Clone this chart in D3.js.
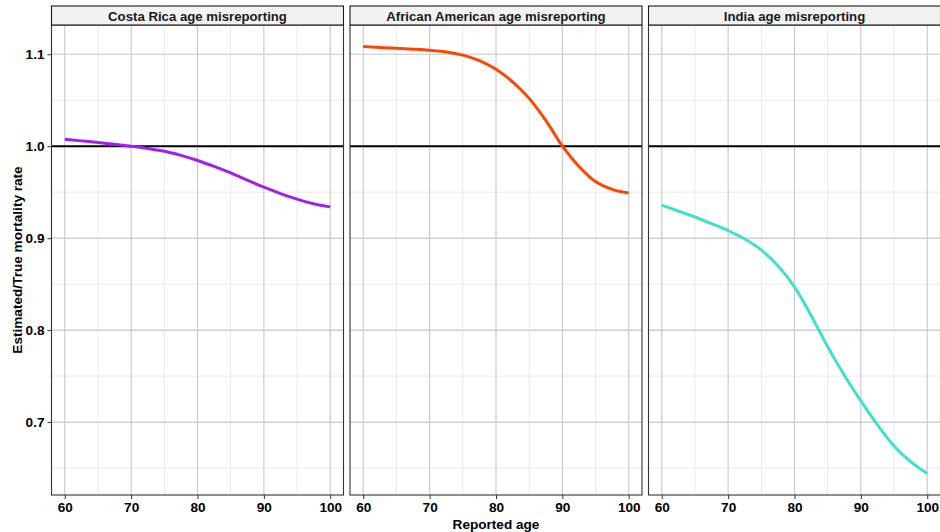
<!DOCTYPE html>
<html>
<head>
<meta charset="utf-8">
<script src="https://cdn.jsdelivr.net/npm/d3@7"></script>
<style>
  body { margin: 0; background: #fff; }
  text { font-family: "Liberation Sans", Arial, sans-serif; font-weight: bold; }
</style>
</head>
<body>
<script>
// data
let ages = [60, 62.5, 65, 67.5, 70, 72.5, 75, 77.5, 80, 82.5, 85, 87.5, 90, 92.5, 95, 97.5, 100];
let costaRica = [1.0076, 1.0058, 1.004, 1.002, 1.000, 0.9975, 0.9945, 0.990, 0.9845, 0.978, 0.971, 0.963, 0.9555, 0.9485, 0.9425, 0.9375, 0.934];
let africanAmerican = [1.1083, 1.1074, 1.1065, 1.1055, 1.1043, 1.1025, 1.099, 1.093, 1.0837, 1.070, 1.052, 1.028, 1.000, 0.978, 0.9615, 0.953, 0.949];
let india = [0.936, 0.9295, 0.923, 0.9158, 0.9083, 0.899, 0.887, 0.870, 0.847, 0.816, 0.782, 0.751, 0.723, 0.697, 0.674, 0.657, 0.644];

let panelTitles = ["Costa Rica age misreporting", "African American age misreporting", "India age misreporting"];
let panelSeries = [costaRica, africanAmerican, india];
let panelColors = ["#A020F0", "#FF4500", "#40E0D0"];

let xTicks = [60, 70, 80, 90, 100];
let xMinor = [65, 75, 85, 95];
let yTicks = [0.7, 0.8, 0.9, 1.0, 1.1];
let yMinor = [0.65, 0.75, 0.85, 0.95, 1.05];

//layout
let width = 940, height = 532;
let plotLeft = 51.5, panelW = 292, gap = 6.5;
let stripTop = 6, stripH = 19;
let panelTop = stripTop + stripH, panelBottom = 495;
let fontSize = 13.6;

const svg = d3.select("body").append("svg")
  .attr("width", width)
  .attr("height", height);

let y = d3.scaleLinear()
  .domain([0.6207, 1.1318])
  .range([panelBottom, panelTop]);

let line = d3.line().curve(d3.curveMonotoneX);

panelTitles.forEach((title, p) => {
  let left = plotLeft + p * (panelW + gap);
  let x = d3.scaleLinear().domain([58, 102]).range([left, left + panelW]);

  let g = svg.append("g");

  //grid
  g.selectAll(".ygm").data(yMinor).enter().append("line")
    .attr("x1", left).attr("x2", left + panelW)
    .attr("y1", d => y(d)).attr("y2", d => y(d))
    .attr("stroke", "#EBEBEB").attr("stroke-width", 1);
  g.selectAll(".xgm").data(xMinor).enter().append("line")
    .attr("x1", d => x(d)).attr("x2", d => x(d))
    .attr("y1", panelTop).attr("y2", panelBottom)
    .attr("stroke", "#EBEBEB").attr("stroke-width", 1);
  g.selectAll(".yg").data(yTicks).enter().append("line")
    .attr("x1", left).attr("x2", left + panelW)
    .attr("y1", d => y(d)).attr("y2", d => y(d))
    .attr("stroke", "#C8C8C8").attr("stroke-width", 1.1);
  g.selectAll(".xg").data(xTicks).enter().append("line")
    .attr("x1", d => x(d)).attr("x2", d => x(d))
    .attr("y1", panelTop).attr("y2", panelBottom)
    .attr("stroke", "#C8C8C8").attr("stroke-width", 1.1);

  //reference line at 1
  g.append("line")
    .attr("x1", left).attr("x2", left + panelW)
    .attr("y1", y(1)).attr("y2", y(1))
    .attr("stroke", "#000").attr("stroke-width", 2);

  //curve
  g.append("path")
    .attr("d", line(ages.map((a, i) => [x(a), y(panelSeries[p][i])])))
    .attr("fill", "none")
    .attr("stroke", panelColors[p])
    .attr("stroke-width", 3);

  //panel border
  g.append("rect")
    .attr("x", left).attr("y", panelTop)
    .attr("width", panelW).attr("height", panelBottom - panelTop)
    .attr("fill", "none").attr("stroke", "#333").attr("stroke-width", 1.1);

  //strip
  g.append("rect")
    .attr("x", left).attr("y", stripTop)
    .attr("width", panelW).attr("height", stripH)
    .attr("fill", "#F2F2F2").attr("stroke", "#1A1A1A").attr("stroke-width", 1.1);
  g.append("text")
    .attr("x", left + panelW / 2).attr("y", stripTop + stripH / 2 + 0.5)
    .attr("text-anchor", "middle").attr("dominant-baseline", "central")
    .attr("font-size", 13.2).attr("fill", "#1A1A1A")
    .text(title);

  //x axis
  let xAxis = d3.axisBottom(x).tickValues(xTicks).tickSize(4).tickPadding(3).tickSizeOuter(0);
  let xg = g.append("g").attr("transform", "translate(0," + panelBottom + ")").call(xAxis);
  xg.select(".domain").remove();
  xg.selectAll(".tick line").attr("stroke", "#333");
  xg.selectAll(".tick text").attr("font-size", fontSize).attr("fill", "#000")
    .style("font-family", "Liberation Sans, Arial, sans-serif").style("font-weight", "bold");

  //y axis on first panel only
  if (p === 0) {
    let yAxis = d3.axisLeft(y).tickValues(yTicks).tickFormat(d3.format(".1f")).tickSize(4).tickPadding(3).tickSizeOuter(0);
    let yg = g.append("g").attr("transform", "translate(" + left + ",0)").call(yAxis);
    yg.select(".domain").remove();
    yg.selectAll(".tick line").attr("stroke", "#333");
    yg.selectAll(".tick text").attr("font-size", fontSize).attr("fill", "#000")
      .style("font-family", "Liberation Sans, Arial, sans-serif").style("font-weight", "bold");
  }
});

//axis titles
svg.append("text")
  .attr("x", plotLeft + (3 * panelW + 2 * gap) / 2)
  .attr("y", 524)
  .attr("text-anchor", "middle").attr("dominant-baseline", "central")
  .attr("font-size", fontSize).attr("fill", "#000")
  .text("Reported age");

svg.append("text")
  .attr("transform", "rotate(-90)")
  .attr("x", -(panelTop + panelBottom) / 2)
  .attr("y", 17)
  .attr("text-anchor", "middle").attr("dominant-baseline", "central")
  .attr("font-size", fontSize).attr("fill", "#000")
  .text("Estimated/True mortality rate");
</script>
</body>
</html>
